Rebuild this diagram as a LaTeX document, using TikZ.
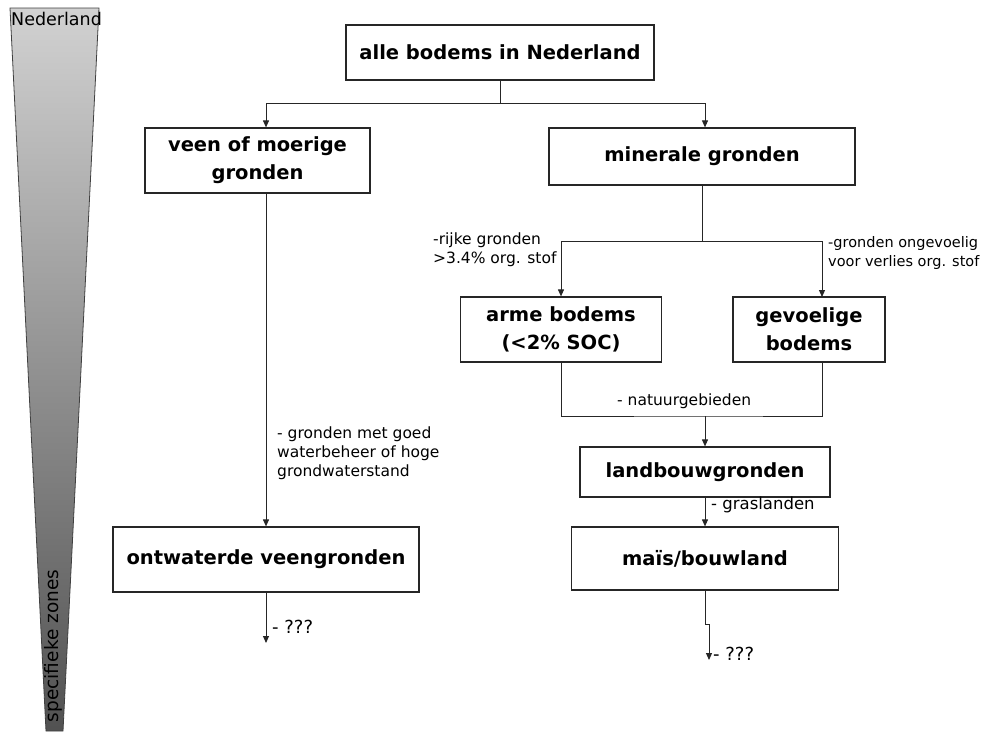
\documentclass[tikz,border=0pt]{standalone}
\usepackage{fontspec}
\setmainfont{DejaVu Sans}
\usetikzlibrary{arrows.meta}
\begin{document}
\begin{tikzpicture}[x=1pt,y=-1pt,
  box/.style={draw=black!85, line width=1.2pt, fill=white, font=\fontsize{19.5}{28}\selectfont\bfseries, align=center, inner sep=0pt},
  lab/.style={font=\fontsize{15.5}{19}\selectfont, inner sep=0pt, align=left},
  conn/.style={line width=1pt, draw=black!85},
  arr/.style={line width=1pt, draw=black!85, -{Triangle[length=7pt,width=6pt]}}]
\useasboundingbox (0,0) rectangle (987,731);
% gradient wedge
\shade[top color=black!18, bottom color=black!68, draw=black!75, line width=0.8pt]
  (10,8) -- (99,8) -- (63,731) -- (46,731) -- cycle;
\node[lab, font=\fontsize{17.5}{20}\selectfont, anchor=north west] (ned) at (11,12) {Nederland};
\node[lab, font=\fontsize{18.5}{20}\selectfont, rotate=90] (spec) at (53,646) {specifieke zones};
% boxes
\node[box, minimum width=308, minimum height=55] (alle) at (500,52.5) {alle bodems in Nederland};
\node[box, minimum width=225, minimum height=65] (veen) at (257.5,160.5) {veen of moerige\\gronden};
\node[box, minimum width=306, minimum height=57] (min) at (702,156.5) {minerale gronden};
\node[box, minimum width=201, minimum height=65] (arme) at (561,329.5) {arme bodems\\(<2\% SOC)};
\node[box, minimum width=152, minimum height=65] (gev) at (809,329.5) {gevoelige\\bodems};
\node[box, minimum width=250, minimum height=50] (land) at (705,472) {landbouwgronden};
\node[box, minimum width=267, minimum height=63] (mais) at (705,558.5) {maïs/bouwland};
\node[box, minimum width=306, minimum height=65] (ontw) at (266,559.5) {ontwaterde veengronden};
% junctions
\coordinate (j1) at (500,103);
\coordinate (j2) at (702,241);
\coordinate (j3) at (705,416);
\coordinate (gevin) at (822,297);
\coordinate (e1) at (266,643);
\coordinate (e2) at (709,660);
% connectors
\draw[conn] (alle.south) -- (j1);
\draw[arr] (j1) -| (ontw.north |- veen.north);
\draw[arr] (j1) -| ([xshift=3pt]min.north);
\draw[conn] (min.south) -- (j2);
\draw[arr] (j2) -| (arme.north);
\draw[arr] (j2) -| (gevin);
\draw[conn] (arme.south) |- (j3) -| (gevin |- gev.south);
\draw[arr] (j3) -- (land.north);
\draw[arr] (land.south) -- (mais.north);
\draw[arr] (mais.south) -- ++(0,34) -- ++(4,0) -- (e2);
\draw[arr] (ontw.north |- veen.south) -- (ontw.north);
\draw[arr] (ontw.south) -- (e1);
% labels
\node[lab, anchor=north west] (l1) at (277,427) {- gronden met goed\\waterbeheer of hoge\\grondwaterstand};
\node[lab, anchor=north west] (l2) at (433,233) {-rijke gronden\\>3.4\% org. stof};
\node[lab, font=\fontsize{14.5}{19}\selectfont, anchor=north west] (l3) at (828,236) {-gronden ongevoelig\\voor verlies org. stof};
\node[lab, anchor=west] (l4) at (617,401) {- natuurgebieden};
\node[lab, font=\fontsize{16.5}{19}\selectfont, anchor=west] (l5) at (711,505) {- graslanden};
\node[lab, font=\fontsize{18}{19}\selectfont, anchor=west] (l6) at (272,627) {- ???};
\node[lab, font=\fontsize{18}{19}\selectfont, anchor=west] (l7) at (713,654) {- ???};
\end{tikzpicture}
\end{document}
